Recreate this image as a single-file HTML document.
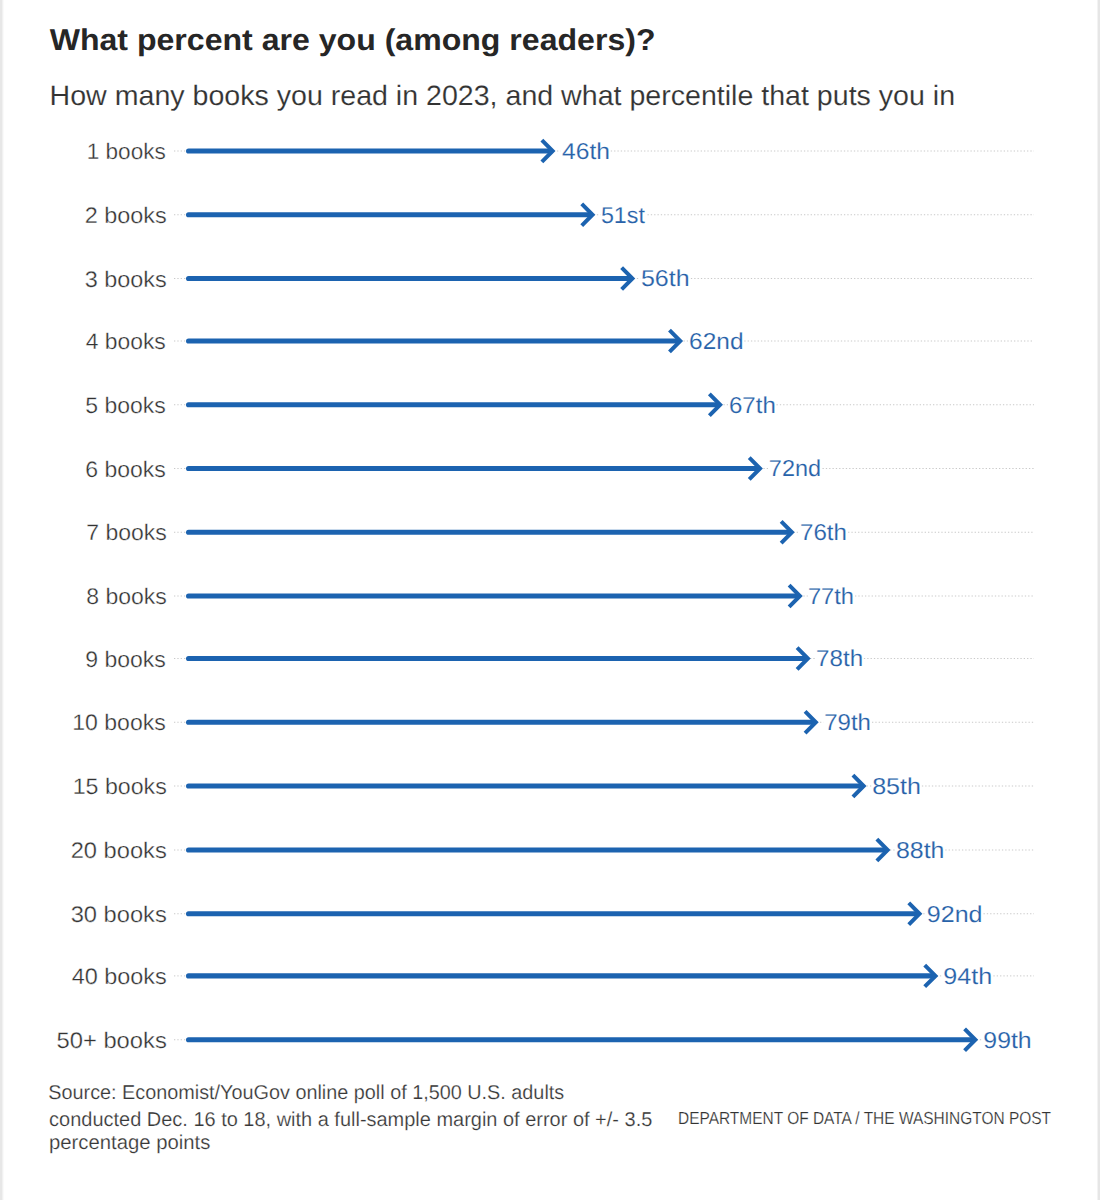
<!DOCTYPE html>
<html><head><meta charset="utf-8">
<style>
html,body{margin:0;padding:0;background:#fff;}
body{width:1100px;height:1200px;position:relative;overflow:hidden;}
svg{position:absolute;left:0;top:0;}
text{font-family:"Liberation Sans",sans-serif;text-rendering:geometricPrecision;}
.grid{stroke:#c9c9c9;stroke-width:1.0;stroke-dasharray:1.3 2.03;}
.lab{font-size:22.5px;fill:#333333;stroke:#fff;stroke-width:0.3px;}
.pct{font-size:23px;fill:#2862a9;stroke:#fff;stroke-width:0.15px;}
.ln{stroke:#1c63b0;stroke-width:5.2;stroke-linecap:round;}
.ah{stroke:#1c63b0;stroke-width:4.0;fill:none;stroke-linejoin:miter;stroke-linecap:butt;}
.title{font-size:30px;font-weight:bold;fill:#262626;stroke:#fff;stroke-width:0px;}
.sub{font-size:28px;fill:#333;stroke:#fff;stroke-width:0.15px;}
.foot{font-size:20px;fill:#383838;stroke:#fff;stroke-width:0.2px;}
.credit{font-size:17.5px;fill:#333;stroke:#fff;stroke-width:0.2px;}
</style></head><body>
<svg width="1100" height="1200" viewBox="0 0 1100 1200">
<rect x="0" y="0" width="2" height="1200" fill="#e7e7e7"/>
<rect x="2" y="0" width="1" height="1200" fill="#f1f1f1"/>
<rect x="3" y="0" width="1" height="1200" fill="#fafafa"/>
<rect x="1097" y="0" width="1" height="1200" fill="#f3f3f3"/>
<rect x="1098" y="0" width="2" height="1200" fill="#e6e6e6"/>
<text x="49.70000000000001" y="49.8" class="title" textLength="605.7999999999998" lengthAdjust="spacingAndGlyphs">What percent are you (among readers)?</text>
<text x="49.59999999999998" y="105.1" class="sub" textLength="905.5" lengthAdjust="spacingAndGlyphs">How many books you read in 2023, and what percentile that puts you in</text>
<line x1="174" y1="151.00" x2="560.50" y2="151.00" class="grid"/>
<line x1="610.80" y1="151.00" x2="1034" y2="151.00" class="grid"/>
<text x="165.80" y="159.10" class="lab" text-anchor="end" textLength="79.11" lengthAdjust="spacingAndGlyphs">1 books</text>
<line x1="188.60" y1="151.00" x2="550.67" y2="151.00" class="ln"/>
<path d="M541.87,140.20 L552.67,151.00 L541.87,161.80" class="ah"/>
<text x="562.00" y="158.80" class="pct" textLength="47.97" lengthAdjust="spacingAndGlyphs">46th</text>
<line x1="174" y1="214.75" x2="600.50" y2="214.75" class="grid"/>
<line x1="647.50" y1="214.75" x2="1034" y2="214.75" class="grid"/>
<text x="166.80" y="222.85" class="lab" text-anchor="end" textLength="82.11" lengthAdjust="spacingAndGlyphs">2 books</text>
<line x1="188.60" y1="214.75" x2="590.55" y2="214.75" class="ln"/>
<path d="M581.75,203.95 L592.55,214.75 L581.75,225.55" class="ah"/>
<text x="600.88" y="222.55" class="pct" textLength="43.98" lengthAdjust="spacingAndGlyphs">51st</text>
<line x1="174" y1="278.50" x2="640.30" y2="278.50" class="grid"/>
<line x1="690.90" y1="278.50" x2="1034" y2="278.50" class="grid"/>
<text x="166.80" y="286.60" class="lab" text-anchor="end" textLength="82.11" lengthAdjust="spacingAndGlyphs">3 books</text>
<line x1="188.60" y1="278.50" x2="630.43" y2="278.50" class="ln"/>
<path d="M621.63,267.70 L632.43,278.50 L621.63,289.30" class="ah"/>
<text x="640.96" y="286.30" class="pct" textLength="48.67" lengthAdjust="spacingAndGlyphs">56th</text>
<line x1="174" y1="341.00" x2="688.00" y2="341.00" class="grid"/>
<line x1="744.30" y1="341.00" x2="1034" y2="341.00" class="grid"/>
<text x="165.80" y="349.10" class="lab" text-anchor="end" textLength="80.11" lengthAdjust="spacingAndGlyphs">4 books</text>
<line x1="188.60" y1="341.00" x2="678.28" y2="341.00" class="ln"/>
<path d="M669.48,330.20 L680.28,341.00 L669.48,351.80" class="ah"/>
<text x="689.11" y="348.80" class="pct" textLength="54.37" lengthAdjust="spacingAndGlyphs">62nd</text>
<line x1="174" y1="404.75" x2="728.00" y2="404.75" class="grid"/>
<line x1="776.50" y1="404.75" x2="1034" y2="404.75" class="grid"/>
<text x="165.80" y="412.85" class="lab" text-anchor="end" textLength="80.61" lengthAdjust="spacingAndGlyphs">5 books</text>
<line x1="188.60" y1="404.75" x2="718.16" y2="404.75" class="ln"/>
<path d="M709.36,393.95 L720.16,404.75 L709.36,415.55" class="ah"/>
<text x="728.99" y="412.55" class="pct" textLength="46.77" lengthAdjust="spacingAndGlyphs">67th</text>
<line x1="174" y1="468.50" x2="768.00" y2="468.50" class="grid"/>
<line x1="822.50" y1="468.50" x2="1034" y2="468.50" class="grid"/>
<text x="165.80" y="476.60" class="lab" text-anchor="end" textLength="80.61" lengthAdjust="spacingAndGlyphs">6 books</text>
<line x1="188.60" y1="468.50" x2="758.04" y2="468.50" class="ln"/>
<path d="M749.24,457.70 L760.04,468.50 L749.24,479.30" class="ah"/>
<text x="768.87" y="476.30" class="pct" textLength="52.17" lengthAdjust="spacingAndGlyphs">72nd</text>
<line x1="174" y1="532.25" x2="799.80" y2="532.25" class="grid"/>
<line x1="848.10" y1="532.25" x2="1034" y2="532.25" class="grid"/>
<text x="166.80" y="540.35" class="lab" text-anchor="end" textLength="80.61" lengthAdjust="spacingAndGlyphs">7 books</text>
<line x1="188.60" y1="532.25" x2="789.95" y2="532.25" class="ln"/>
<path d="M781.15,521.45 L791.95,532.25 L781.15,543.05" class="ah"/>
<text x="799.98" y="540.05" class="pct" textLength="46.97" lengthAdjust="spacingAndGlyphs">76th</text>
<line x1="174" y1="596.00" x2="807.80" y2="596.00" class="grid"/>
<line x1="855.00" y1="596.00" x2="1034" y2="596.00" class="grid"/>
<text x="166.80" y="604.10" class="lab" text-anchor="end" textLength="80.61" lengthAdjust="spacingAndGlyphs">8 books</text>
<line x1="188.60" y1="596.00" x2="797.92" y2="596.00" class="ln"/>
<path d="M789.12,585.20 L799.92,596.00 L789.12,606.80" class="ah"/>
<text x="807.95" y="603.80" class="pct" textLength="46.07" lengthAdjust="spacingAndGlyphs">77th</text>
<line x1="174" y1="658.50" x2="815.70" y2="658.50" class="grid"/>
<line x1="863.90" y1="658.50" x2="1034" y2="658.50" class="grid"/>
<text x="165.80" y="666.60" class="lab" text-anchor="end" textLength="80.61" lengthAdjust="spacingAndGlyphs">9 books</text>
<line x1="188.60" y1="658.50" x2="805.90" y2="658.50" class="ln"/>
<path d="M797.10,647.70 L807.90,658.50 L797.10,669.30" class="ah"/>
<text x="816.03" y="666.30" class="pct" textLength="47.07" lengthAdjust="spacingAndGlyphs">78th</text>
<line x1="174" y1="722.25" x2="823.50" y2="722.25" class="grid"/>
<line x1="872.00" y1="722.25" x2="1034" y2="722.25" class="grid"/>
<text x="165.80" y="730.35" class="lab" text-anchor="end" textLength="93.53" lengthAdjust="spacingAndGlyphs">10 books</text>
<line x1="188.60" y1="722.25" x2="813.88" y2="722.25" class="ln"/>
<path d="M805.08,711.45 L815.88,722.25 L805.08,733.05" class="ah"/>
<text x="824.20" y="730.05" class="pct" textLength="46.77" lengthAdjust="spacingAndGlyphs">79th</text>
<line x1="174" y1="786.00" x2="871.40" y2="786.00" class="grid"/>
<line x1="921.90" y1="786.00" x2="1034" y2="786.00" class="grid"/>
<text x="166.80" y="794.10" class="lab" text-anchor="end" textLength="94.13" lengthAdjust="spacingAndGlyphs">15 books</text>
<line x1="188.60" y1="786.00" x2="861.73" y2="786.00" class="ln"/>
<path d="M852.93,775.20 L863.73,786.00 L852.93,796.80" class="ah"/>
<text x="872.16" y="793.80" class="pct" textLength="48.77" lengthAdjust="spacingAndGlyphs">85th</text>
<line x1="174" y1="850.00" x2="895.50" y2="850.00" class="grid"/>
<line x1="945.30" y1="850.00" x2="1034" y2="850.00" class="grid"/>
<text x="166.80" y="858.10" class="lab" text-anchor="end" textLength="96.13" lengthAdjust="spacingAndGlyphs">20 books</text>
<line x1="188.60" y1="850.00" x2="885.66" y2="850.00" class="ln"/>
<path d="M876.86,839.20 L887.66,850.00 L876.86,860.80" class="ah"/>
<text x="895.99" y="857.80" class="pct" textLength="48.47" lengthAdjust="spacingAndGlyphs">88th</text>
<line x1="174" y1="913.75" x2="926.60" y2="913.75" class="grid"/>
<line x1="983.50" y1="913.75" x2="1034" y2="913.75" class="grid"/>
<text x="166.80" y="921.85" class="lab" text-anchor="end" textLength="96.13" lengthAdjust="spacingAndGlyphs">30 books</text>
<line x1="188.60" y1="913.75" x2="917.56" y2="913.75" class="ln"/>
<path d="M908.76,902.95 L919.56,913.75 L908.76,924.55" class="ah"/>
<text x="926.79" y="921.55" class="pct" textLength="55.77" lengthAdjust="spacingAndGlyphs">92nd</text>
<line x1="174" y1="975.90" x2="943.00" y2="975.90" class="grid"/>
<line x1="993.40" y1="975.90" x2="1034" y2="975.90" class="grid"/>
<text x="166.80" y="984.00" class="lab" text-anchor="end" textLength="95.13" lengthAdjust="spacingAndGlyphs">40 books</text>
<line x1="188.60" y1="975.90" x2="933.52" y2="975.90" class="ln"/>
<path d="M924.72,965.10 L935.52,975.90 L924.72,986.70" class="ah"/>
<text x="943.34" y="983.70" class="pct" textLength="48.87" lengthAdjust="spacingAndGlyphs">94th</text>
<line x1="174" y1="1039.75" x2="982.90" y2="1039.75" class="grid"/>

<text x="166.80" y="1047.85" class="lab" text-anchor="end" textLength="110.27" lengthAdjust="spacingAndGlyphs">50+ books</text>
<line x1="188.60" y1="1039.75" x2="973.40" y2="1039.75" class="ln"/>
<path d="M964.60,1028.95 L975.40,1039.75 L964.60,1050.55" class="ah"/>
<text x="983.32" y="1047.55" class="pct" textLength="48.37" lengthAdjust="spacingAndGlyphs">99th</text>
<text x="48.29999999999999" y="1099.3" class="foot" textLength="515.9000000000003" lengthAdjust="spacingAndGlyphs">Source: Economist/YouGov online poll of 1,500 U.S. adults</text>
<text x="49.09999999999998" y="1125.5" class="foot" textLength="603.2000000000002" lengthAdjust="spacingAndGlyphs">conducted Dec. 16 to 18, with a full-sample margin of error of +/- 3.5</text>
<text x="49.0" y="1149.4" class="foot" textLength="161.30000000000004" lengthAdjust="spacingAndGlyphs">percentage points</text>
<text x="678.0" y="1123.7" class="credit" textLength="373.0" lengthAdjust="spacingAndGlyphs">DEPARTMENT OF DATA / THE WASHINGTON POST</text>
</svg>
</body></html>
